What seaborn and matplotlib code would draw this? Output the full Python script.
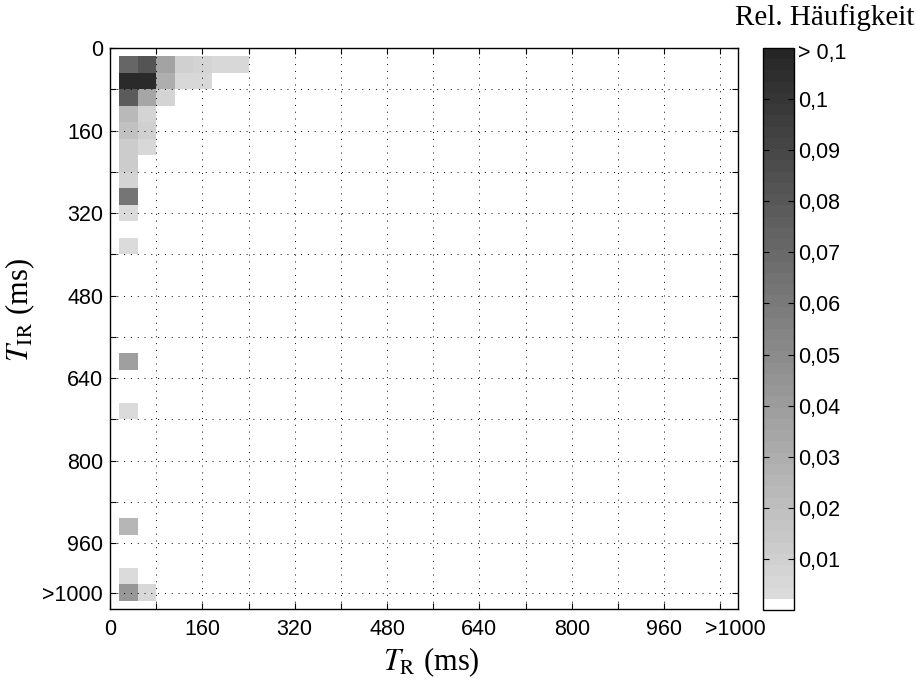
import numpy as np
import pandas as pd
import matplotlib
matplotlib.use("Agg")
import matplotlib.pyplot as plt
import matplotlib.transforms as mtransforms
from matplotlib.colors import ListedColormap
import seaborn as sns

# Bin width of the joint histogram (ms); bin k is centred at k * BIN_MS,
# the last bin (33) collects everything above 1000 ms.
BIN_MS = 32
N_BINS = 35

# Non-empty cells: T_IR bin centre (ms), T_R bin centre (ms), relative frequency
tir_ms = [32, 32, 32, 32, 32, 32, 32,
          64, 64, 64, 64, 64,
          96, 96, 96,
          128, 128,
          160, 160,
          192, 192,
          224, 256, 288, 320, 384, 608, 704, 928, 1024,
          1056, 1056]
tr_ms = [32, 64, 96, 128, 160, 192, 224,
         32, 64, 96, 128, 160,
         32, 64, 96,
         32, 64,
         32, 64,
         32, 64,
         32, 32, 32, 32, 32, 32, 32, 32, 32,
         32, 64]
freq = [0.072, 0.082, 0.036, 0.009, 0.007, 0.005, 0.005,
        0.106, 0.106, 0.029, 0.0065, 0.0065,
        0.078, 0.033, 0.007,
        0.022, 0.007,
        0.018, 0.009,
        0.013, 0.005,
        0.012, 0.007, 0.062, 0.004, 0.004, 0.038, 0.004, 0.026, 0.004,
        0.042, 0.005]

axis_ticks_ms = [0, 80, 160, 240, 320, 400, 480, 560, 640, 720, 800, 880, 960, 1056]
axis_ticklabels = ["0", "", "160", "", "320", "", "480", "", "640", "", "800", "", "960", ">1000"]

cbar_ticks = [0.01, 0.02, 0.03, 0.04, 0.05, 0.06, 0.07, 0.08, 0.09, 0.1, 0.1095]
cbar_ticklabels = ["0,01", "0,02", "0,03", "0,04", "0,05", "0,06", "0,07",
                   "0,08", "0,09", "0,1", "> 0,1"]

VMAX = 0.11

# Stepped grey colour map: white for the lowest level, then light -> dark grey
n_levels = 50
greys = np.linspace(0.86, 0.15, n_levels - 1)
colors = [(1, 1, 1)] + [(g, g, g) for g in greys]
cmap = ListedColormap(colors)

df = pd.DataFrame({"T_IR": tir_ms, "T_R": tr_ms, "freq": freq})
df["row"] = df["T_IR"] // BIN_MS
df["col"] = df["T_R"] // BIN_MS
grid = (df.pivot(index="row", columns="col", values="freq")
          .reindex(index=range(N_BINS), columns=range(N_BINS)))

plt.rcParams["font.family"] = ["Liberation Sans", "DejaVu Sans"]
plt.rcParams["mathtext.fontset"] = "stix"

fig = plt.figure(figsize=(9.16, 6.82), dpi=100)
ax = fig.add_axes([0.1201, 0.1070, 0.6856, 0.8226])
cax = fig.add_axes([0.8330, 0.1056, 0.0338, 0.8240])

sns.heatmap(grid, ax=ax, cmap=cmap, vmin=0, vmax=VMAX, cbar_ax=cax,
            xticklabels=False, yticklabels=False, linewidths=0)


def to_cell(ms):
    return np.asarray(ms, dtype=float) / BIN_MS + 0.5


ax.set_xlim(to_cell(0), to_cell(1088))
ax.set_ylim(to_cell(1088), to_cell(0))
ax.set_xlabel("")
ax.set_ylabel("")

ax.set_xticks(to_cell(axis_ticks_ms))
ax.set_xticklabels(axis_ticklabels, rotation=0)
ax.set_yticks(to_cell(axis_ticks_ms))
ax.set_yticklabels(axis_ticklabels, rotation=0)
ax.tick_params(axis="both", direction="in", length=4, width=0.8, colors="k",
               labelsize=15.5, top=True, right=True, bottom=True, left=True,
               labeltop=False, labelright=False)
ax.tick_params(axis="x", pad=7)
ax.tick_params(axis="y", pad=5)

# The overflow label sits a little right of its tick
overflow_label = ax.get_xticklabels()[-1]
overflow_label.set_transform(overflow_label.get_transform()
                             + mtransforms.ScaledTranslation(0.16, 0, fig.dpi_scale_trans))

for spine in ax.spines.values():
    spine.set_visible(True)
    spine.set_color("k")
    spine.set_linewidth(1.0)

ax.set_axisbelow(False)
ax.grid(True, color="k", linestyle=(0, (1, 6)), linewidth=0.7)

# Colour bar
cbar = ax.collections[0].colorbar
cbar.set_ticks(cbar_ticks)
cbar.set_ticklabels(cbar_ticklabels)
cbar.outline.set_visible(True)
cbar.outline.set_linewidth(1.0)
cbar.outline.set_edgecolor("k")
cax.tick_params(direction="in", length=4, width=0.8, colors="k",
                left=True, right=True, labelsize=15.5, pad=3)
last = cax.yaxis.get_major_ticks()[-1]
last.tick1line.set_visible(False)
last.tick2line.set_visible(False)

serif = ["Liberation Serif", "DejaVu Serif"]
fig.text(431 / 916, 1 - 662 / 682, r"$T_{\mathrm{R}}$ (ms)", ha="center", va="center",
         fontsize=22, family=serif)
fig.text(20 / 916, 1 - 310 / 682, r"$T_{\mathrm{IR}}$ (ms)", ha="center", va="center",
         rotation=90, fontsize=22, family=serif)
fig.text(825 / 916, 1 - 18 / 682, "Rel. Häufigkeit", ha="center", va="center",
         fontsize=21, family=serif)

fig.savefig("out.png", dpi=100, facecolor="white")
